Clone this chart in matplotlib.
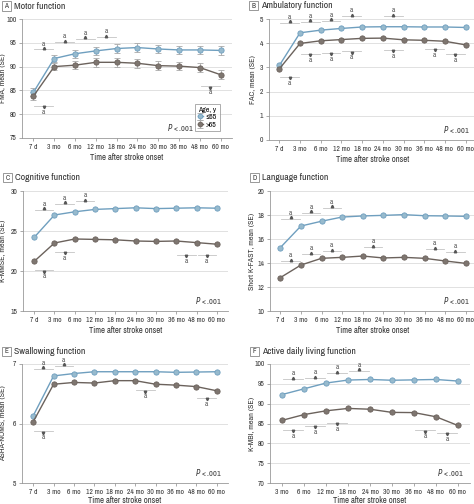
import matplotlib
matplotlib.use("Agg")
import matplotlib.pyplot as plt
from matplotlib.patches import Rectangle
from matplotlib import font_manager

# choose a condensed sans font if one is installed, else Roboto
_cands = []
for f in font_manager.fontManager.ttflist:
    st = str(f.stretch).lower()
    nm = f.name
    if st in ("condensed", "semi-condensed") and "Mono" not in nm and "Serif" not in nm:
        _cands.append(nm)
if _cands:
    FONT = sorted(set(_cands))[0]
    STRETCH = 'condensed'
    S = 1.0
else:
    FONT = 'Roboto'
    STRETCH = 'normal'
    S = 0.88

plt.rcParams['font.family'] = [FONT, 'DejaVu Sans']
plt.rcParams['font.stretch'] = STRETCH

times10 = ["7 d", "3 mo", "6 mo", "12 mo", "18 mo", "24 mo", "30 mo", "36 mo", "48 mo", "60 mo"]
times9 = ["3 mo", "6 mo", "12 mo", "18 mo", "24 mo", "30 mo", "36 mo", "48 mo", "60 mo"]

# A Motor function (FMA)
fma_young = [84.6, 91.7, 92.7, 93.3, 93.8, 94.0, 93.7, 93.5, 93.5, 93.4]
fma_old = [83.8, 90.0, 90.3, 90.9, 90.9, 90.7, 90.2, 90.1, 89.8, 88.3]
fma_se_young = [0.8, 0.8, 0.8, 0.9, 0.9, 0.9, 0.9, 0.9, 0.9, 0.9]
fma_se_old = [0.8, 0.8, 0.8, 0.9, 0.9, 0.9, 0.9, 0.9, 0.9, 0.9]
fma_sig = [(0, 93.6, 1), (1, 95.1, 1), (2, 95.9, 1), (3, 96.2, 1), (0, 81.8, -1), (8, 85.9, -1)]

# B Ambulatory function (FAC)
fac_young = [3.08, 4.43, 4.54, 4.61, 4.67, 4.68, 4.68, 4.67, 4.67, 4.65]
fac_old = [2.94, 3.99, 4.10, 4.15, 4.20, 4.21, 4.14, 4.12, 4.08, 3.93]
fac_sig = [(0, 4.84, 1), (1, 4.88, 1), (2, 4.92, 1), (3, 5.12, 1), (5, 5.11, 1),
           (0, 2.61, -1), (1, 3.56, -1), (2, 3.61, -1), (3, 3.67, -1), (5, 3.73, -1),
           (7, 3.76, -1), (8, 3.56, -1)]

# C Cognitive function (K-MMSE)
mmse_young = [24.2, 27.0, 27.4, 27.7, 27.8, 27.9, 27.8, 27.85, 27.9, 27.85]
mmse_old = [21.2, 23.5, 24.0, 23.95, 23.9, 23.75, 23.7, 23.75, 23.55, 23.35]
mmse_sig = [(0, 27.65, 1), (1, 28.4, 1), (2, 28.7, 1),
            (0, 20.1, -1), (1, 22.4, -1), (7, 22.0, -1), (8, 22.0, -1)]

# D Language function (Short K-FAST)
fast_young = [15.28, 17.08, 17.48, 17.83, 17.92, 17.97, 18.03, 17.94, 17.92, 17.89]
fast_old = [12.78, 13.83, 14.39, 14.47, 14.58, 14.42, 14.47, 14.39, 14.17, 13.97]
fast_sig = [(0, 17.7, 1), (1, 18.2, 1), (2, 18.6, 1),
            (0, 14.17, 1), (1, 14.75, 1), (2, 15.0, 1), (4, 15.33, 1), (7, 15.17, 1), (8, 14.92, 1)]

# E Swallowing function (ASHA-NOMS)
noms_young = [6.13, 6.80, 6.84, 6.87, 6.87, 6.87, 6.87, 6.86, 6.865, 6.87]
noms_old = [6.03, 6.66, 6.69, 6.68, 6.72, 6.72, 6.66, 6.645, 6.62, 6.55]
noms_sig = [(0, 6.92, 1), (1, 6.97, 1), (0, 5.87, -1), (5, 6.56, -1), (8, 6.43, -1)]

# F Active daily living function (K-MBI)
mbi_young = [92.3, 93.75, 95.2, 95.95, 96.1, 95.9, 96.0, 96.1, 95.7]
mbi_old = [85.8, 87.25, 88.2, 88.8, 88.6, 87.8, 87.75, 86.7, 84.5]
mbi_sig = [(0, 96.2, 1), (1, 96.45, 1), (2, 97.7, 1), (3, 98.3, 1),
           (0, 83.4, -1), (1, 84.4, -1), (2, 85.2, -1), (6, 83.3, -1), (7, 82.6, -1)]

BLUE_LINE = "#6f9fbf"
BLUE_FACE = "#97bacd"
GRAY_LINE = "#6b625c"
GRAY_FACE = "#7e7670"
GRID = "#dcdcdc"
TXT = "#333333"

W, H = 474, 504
fig = plt.figure(figsize=(W / 100, H / 100), dpi=100)


def px_axes(left, top, right, bottom):
    ax = fig.add_axes([left / W, 1 - bottom / H, (right - left) / W, (bottom - top) / H])
    ax._px = (left, right)
    return ax


def panel(ax, cats, young, old, sig, yticks, ylabel, letter, title, se_y=None, se_o=None,
          xpad=0.55, legend=False, px=0.97, ylab_x=6, xlab_pad=2.5):
    x = list(range(len(cats)))
    ax.errorbar(x, young, yerr=se_y, color=BLUE_LINE, lw=1.0, marker='o', ms=3.8,
                mfc=BLUE_FACE, mec=BLUE_LINE, mew=0.6, ecolor="#a8a8a8", elinewidth=0.6,
                capsize=2, capthick=0.6, zorder=3, label="\u226465")
    ax.errorbar(x, old, yerr=se_o, color=GRAY_LINE, lw=1.0, marker='o', ms=3.8,
                mfc=GRAY_FACE, mec=GRAY_LINE, mew=0.6, ecolor="#a8a8a8", elinewidth=0.6,
                capsize=2, capthick=0.6, zorder=3, label=">65")
    yr = yticks[-1] - yticks[0]
    for i, yv, d in sig:
        ax.plot([i + 0.05, i + 0.95], [yv, yv], color="#c4c4c4", lw=0.6, zorder=2,
                clip_on=False)
        ax.plot([i + 0.5], [yv + d * 0.012 * yr], marker='^' if d > 0 else 'v', ms=1.8,
                color="#555555", zorder=2, clip_on=False)
        ax.text(i + 0.5, yv + d * 0.05 * yr, "a", ha='center', va='center', fontsize=5.2 * S,
                color="#555555")
    ax.set_ylim(yticks[0], yticks[-1])
    ax.set_yticks(yticks)
    ax.set_xlim(-xpad, len(cats) - 1 + xpad)
    ax.set_xticks(x)
    ax.set_xticklabels(cats)
    ax.tick_params(labelsize=5.4 * S, colors=TXT, length=2, width=0.5, pad=2, color="#888888")
    ax.grid(axis='y', color=GRID, lw=0.6)
    ax.set_axisbelow(True)
    for s in ("top", "right"):
        ax.spines[s].set_visible(False)
    for s in ("left", "bottom"):
        ax.spines[s].set_color("#999999")
        ax.spines[s].set_linewidth(0.6)
    ax.set_ylabel(ylabel, fontsize=5.8 * S, color=TXT)
    lpx, rpx = ax._px
    ax.yaxis.set_label_coords((ylab_x - lpx) / (rpx - lpx), 0.5)
    ax.set_xlabel("Time after stroke onset", fontsize=6.2 * S, color=TXT, labelpad=xlab_pad)
    ax.text(px, 0.04, r"$\it{P}$ < .001", transform=ax.transAxes, ha='right', va='bottom',
            fontsize=5.8 * S, color=TXT)
    if legend:
        leg = ax.legend(title="Age, y", loc='lower right', bbox_to_anchor=(0.96, 0.03),
                        fontsize=5.6 * S, title_fontsize=5.6 * S, frameon=True,
                        handlelength=0.6, handletextpad=0.4, borderpad=0.35,
                        labelspacing=0.15, fancybox=False, edgecolor="#888888",
                        markerscale=0.9)
        leg.get_frame().set_linewidth(0.6)
        leg._legend_box.align = "left"
    # panel header
    bb = ax.get_position()
    fx = bb.x0 - 20 / W
    fy = bb.y1 + 13 / H
    fig.patches.append(Rectangle((fx, fy - 4.5 / H), 9 / W, 9 / H, transform=fig.transFigure,
                                 fill=False, edgecolor="#888888", lw=0.6))
    fig.text(fx + 4.5 / W, fy, letter, ha='center', va='center', fontsize=5.2 * S,
             fontweight='bold', color=TXT)
    fig.text(fx + 12 / W, fy, title, ha='left', va='center', fontsize=7.0 * S, color=TXT)


axA = px_axes(22, 19, 232, 138)
panel(axA, times10, fma_young, fma_old, fma_sig, [75, 80, 85, 90, 95, 100], "FMA, mean (SE)",
      "A", "Motor function", fma_se_young, fma_se_old, legend=True, px=0.82, ylab_x=6)

axB = px_axes(269, 19, 476, 140)
panel(axB, times10, fac_young, fac_old, fac_sig, [0, 1, 2, 3, 4, 5], "FAC, mean (SE)",
      "B", "Ambulatory function", xpad=0.5, ylab_x=256)

axC = px_axes(23, 191, 228, 311)
panel(axC, times10, mmse_young, mmse_old, mmse_sig, [15, 20, 25, 30], "K-MMSE, mean (SE)",
      "C", "Cognitive function", ylab_x=6)

axD = px_axes(270, 191, 476, 311)
panel(axD, times10, fast_young, fast_old, fast_sig, [10, 12, 14, 16, 18, 20],
      "Short K-FAST, mean (SE)", "D", "Language function", xpad=0.5, ylab_x=255)

axE = px_axes(22, 364, 228, 483)
panel(axE, times10, noms_young, noms_old, noms_sig, [5, 6, 7], "ASHA-NOMS, mean (SE)",
      "E", "Swallowing function", ylab_x=6, xlab_pad=1.2)

axF = px_axes(270, 364, 470, 483)
panel(axF, times9, mbi_young, mbi_old, mbi_sig, [70, 75, 80, 85, 90, 95, 100],
      "K-MBI, mean (SE)", "F", "Active daily living function", ylab_x=255, xlab_pad=1.2)

fig.savefig("out.png", dpi=100)
